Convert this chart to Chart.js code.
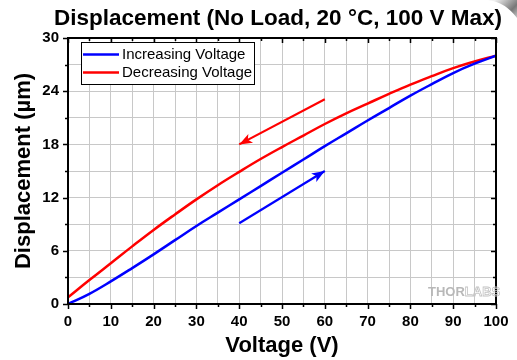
<!DOCTYPE html>
<html>
<head>
<meta charset="utf-8">
<script src="https://cdn.jsdelivr.net/npm/chart.js@4.4.1/dist/chart.umd.min.js"></script>
<style>
  html, body { margin: 0; background: #fff; }
  #wrap { width: 517px; height: 360px; }
</style>
</head>
<body>
<div id="wrap"><canvas id="chart"></canvas></div>
<script>
/* ---------------- DATA ---------------- */
const voltage      = [0, 5, 10, 15, 20, 25, 30, 35, 40, 45, 50, 55, 60, 65, 70, 75, 80, 85, 90, 95, 100];
const increasingUm = [0, 1.15, 2.55, 4.05, 5.6, 7.2, 8.8, 10.3, 11.8, 13.3, 14.8, 16.3, 17.8, 19.25, 20.7, 22.1, 23.5, 24.8, 26.05, 27.1, 28.0];
const decreasingUm = [0.75, 2.7, 4.6, 6.5, 8.35, 10.1, 11.8, 13.4, 14.9, 16.35, 17.7, 19.0, 20.3, 21.5, 22.6, 23.7, 24.75, 25.7, 26.6, 27.35, 28.0];

const upArrowV     = [40, 60];
const upArrowUm    = [9.1, 15.0];
const downArrowV   = [60, 40];
const downArrowUm  = [23.1, 18.0];

const xLabelStep   = 10;   // labelled x ticks
const yLabelStep   = 6;    // labelled y ticks

const FONT = "'Liberation Sans', Arial, sans-serif";

/* --------------- helpers ---------------- */
const pts = (xs, ys) => xs.map((v, i) => ({ x: v, y: ys[i] }));

/* frame, ticks, arrow heads, legend, watermark */
const decor = {
  id: "decor",
  afterLayout(chart) {
    // title sits right of centre in the original
    const tb = chart.titleBlock;
    if (tb) { tb.left += 30; tb.right += 30; }
  },
  afterDatasetsDraw(chart) {
    const { ctx, chartArea: a, scales: { x, y } } = chart;
    ctx.save();

    // arrow heads
    chart.data.datasets.forEach((ds, i) => {
      if (!ds.arrow) return;
      const [p0, p1] = chart.getDatasetMeta(i).data;
      const ang = Math.atan2(p1.y - p0.y, p1.x - p0.x);
      const L = 13, W = 5;
      ctx.fillStyle = ds.borderColor;
      ctx.beginPath();
      ctx.moveTo(p1.x, p1.y);
      ctx.lineTo(p1.x - L * Math.cos(ang) + W * Math.sin(ang), p1.y - L * Math.sin(ang) - W * Math.cos(ang));
      ctx.lineTo(p1.x - L * 0.75 * Math.cos(ang), p1.y - L * 0.75 * Math.sin(ang));
      ctx.lineTo(p1.x - L * Math.cos(ang) - W * Math.sin(ang), p1.y - L * Math.sin(ang) + W * Math.cos(ang));
      ctx.closePath();
      ctx.fill();
    });

    // frame
    ctx.strokeStyle = "#000";
    ctx.lineWidth = 2;
    ctx.strokeRect(a.left, a.top, a.right - a.left, a.bottom - a.top);

    // tick marks
    ctx.lineWidth = 1.5;
    ctx.beginPath();
    x.ticks.forEach(t => {
      const px = Math.round(x.getPixelForValue(t.value)) + 0.5;
      const len = t.value % xLabelStep === 0 ? 5 : 3;
      ctx.moveTo(px, a.bottom); ctx.lineTo(px, a.bottom + len);
      ctx.moveTo(px, a.top);    ctx.lineTo(px, a.top + len);
    });
    y.ticks.forEach(t => {
      const py = Math.round(y.getPixelForValue(t.value)) + 0.5;
      const len = t.value % yLabelStep === 0 ? 5 : 3;
      ctx.moveTo(a.left, py);  ctx.lineTo(a.left - len, py);
      ctx.moveTo(a.right, py); ctx.lineTo(a.right - len, py);
    });
    ctx.stroke();

    // legend box
    const items = chart.data.datasets.filter(d => d.label);
    const bx = 81, by = 42, bw = 173, bh = 42;
    ctx.fillStyle = "#fff";
    ctx.fillRect(bx, by, bw, bh);
    ctx.lineWidth = 1;
    ctx.strokeStyle = "#000";
    ctx.strokeRect(bx + 0.5, by + 0.5, bw, bh);
    ctx.font = `15px ${FONT}`;
    ctx.textBaseline = "middle";
    items.forEach((d, i) => {
      const ly = by + 12.5 + i * 18;
      ctx.strokeStyle = d.borderColor;
      ctx.lineWidth = 2.5;
      ctx.beginPath();
      ctx.moveTo(bx + 2, ly); ctx.lineTo(bx + 38, ly);
      ctx.stroke();
      ctx.fillStyle = "#000";
      ctx.fillText(d.label, bx + 41, ly);
    });

    // watermark
    ctx.font = `bold 13px ${FONT}`;
    ctx.textBaseline = "alphabetic";
    ctx.fillStyle = "#b8b8b8";
    ctx.fillText("THOR", 428, 296);
    const w = ctx.measureText("THOR").width;
    ctx.strokeStyle = "#c4c4c4";
    ctx.lineWidth = 0.8;
    ctx.strokeText("LABS", 428 + w, 296);

    // page curl in the corner
    const g = ctx.createLinearGradient(495, 0, 517, 22);
    g.addColorStop(0, "#f0f0f0");
    g.addColorStop(0.6, "#777");
    g.addColorStop(1, "#ddd");
    ctx.fillStyle = g;
    ctx.beginPath();
    ctx.moveTo(488, 0);
    ctx.quadraticCurveTo(505, 2, 517, 18);
    ctx.lineTo(517, 0);
    ctx.closePath();
    ctx.fill();

    ctx.restore();
  }
};

/* ---------------- chart ----------------- */
new Chart(document.getElementById("chart"), {
  type: "line",
  data: {
    datasets: [
      { label: "Increasing Voltage", data: pts(voltage, increasingUm), borderColor: "#0000ff", borderWidth: 2.5, pointRadius: 0, tension: 0.4 },
      { label: "Decreasing Voltage", data: pts(voltage, decreasingUm), borderColor: "#ff0000", borderWidth: 2.5, pointRadius: 0, tension: 0.4 },
      { data: pts(upArrowV, upArrowUm),     borderColor: "#0000ff", borderWidth: 2.2, pointRadius: 0, arrow: true },
      { data: pts(downArrowV, downArrowUm), borderColor: "#ff0000", borderWidth: 2.2, pointRadius: 0, arrow: true }
    ]
  },
  options: {
    responsive: true,
    maintainAspectRatio: false,
    animation: false,
    devicePixelRatio: 1,
    layout: { padding: { top: 0, right: 21, bottom: 0, left: 0 } },
    plugins: {
      legend: { display: false },
      tooltip: { enabled: false },
      title: {
        display: true,
        text: "Displacement (No Load, 20 °C, 100 V Max)",
        color: "#000",
        font: { family: FONT, size: 22.5, weight: "bold" },
        padding: { top: 5, bottom: 6 }
      }
    },
    scales: {
      x: {
        type: "linear", min: 0, max: 100,
        border: { display: false },
        grid: { color: "#c8c8c8", lineWidth: 1, tickLength: 6, tickColor: "rgba(0,0,0,0)" },
        ticks: {
          stepSize: 5, autoSkip: false, maxRotation: 0, padding: 3, color: "#000",
          font: { family: FONT, size: 15, weight: "bold" },
          callback: v => (v % xLabelStep === 0 ? v : "")
        },
        title: { display: true, text: "Voltage (V)", color: "#000", font: { family: FONT, size: 22, weight: "bold" }, padding: { top: 0, bottom: 1 } },
        afterFit: s => { s.height = 56; }
      },
      y: {
        min: 0, max: 30,
        border: { display: false },
        grid: { color: "#c8c8c8", lineWidth: 1, tickLength: 6, tickColor: "rgba(0,0,0,0)" },
        ticks: {
          stepSize: 3, autoSkip: false, padding: 3, color: "#000",
          font: { family: FONT, size: 15, weight: "bold" },
          callback: v => (v % yLabelStep === 0 ? v : "")
        },
        title: { display: true, text: "Displacement (µm)", color: "#000", font: { family: FONT, size: 22, weight: "bold" }, padding: { top: 11, bottom: 0 } },
        afterFit: s => { s.width = 68; }
      }
    }
  },
  plugins: [decor]
});
</script>
</body>
</html>
